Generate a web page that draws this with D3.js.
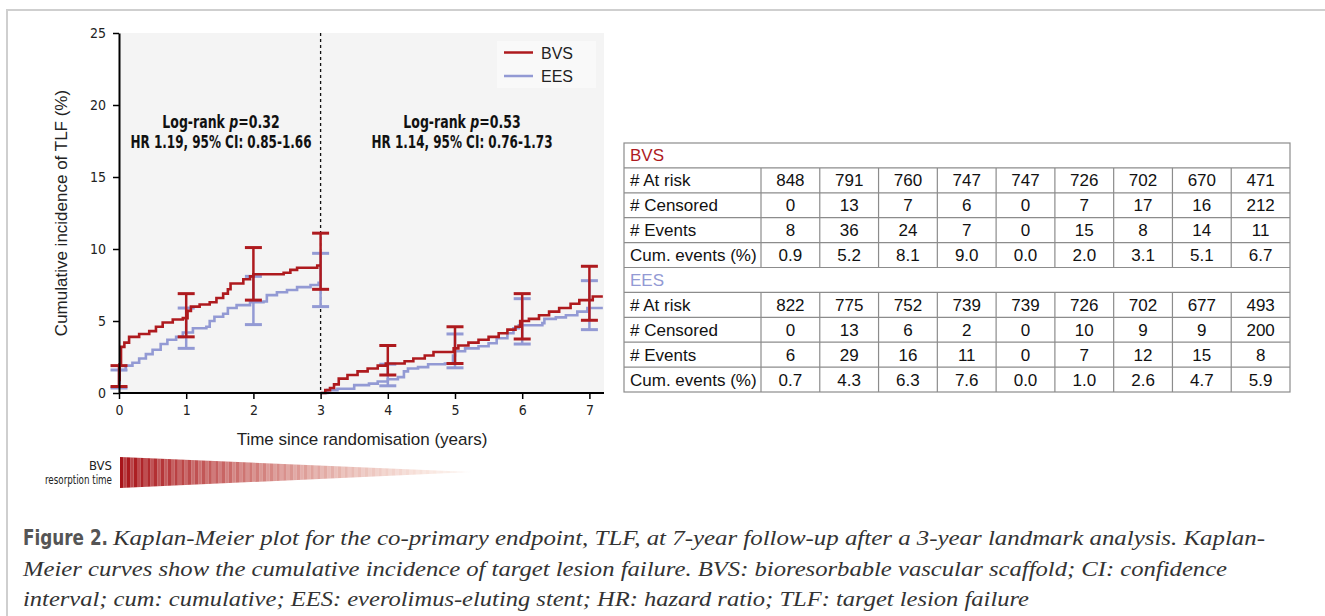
<!DOCTYPE html>
<html>
<head>
<meta charset="utf-8">
<script src="https://cdn.jsdelivr.net/npm/d3@7"></script>
<style>
  body { margin: 0; background: #fff; }
  .narrow { font-family: "Liberation Sans Narrow", "DejaVu Sans Condensed", "Roboto", sans-serif; font-stretch: condensed; }
  .sans { font-family: "Liberation Sans", Arial, sans-serif; }
  .serif { font-family: "Liberation Serif", "DejaVu Serif", serif; }
</style>
</head>
<body>
<svg id="fig" width="1325" height="616"></svg>
<script>
// Kaplan-Meier step data: [time (years), cumulative incidence (%)]
const bvsEarly = [[0,0.9],[0.01,2.0],[0.03,3.2],[0.08,3.5],[0.15,3.9],[0.3,4.1],[0.45,4.3],[0.55,4.6],[0.65,4.9],[0.8,5.1],[0.95,5.2],[1.02,5.7],[1.07,6.0],[1.2,6.15],[1.35,6.3],[1.45,6.6],[1.55,6.9],[1.62,7.2],[1.66,7.6],[1.85,7.9],[1.95,8.1],[2.0,8.25],[2.45,8.35],[2.55,8.55],[2.65,8.7],[2.95,8.85],[3.0,8.85]];
const eesEarly = [[0,0.7],[0.01,1.6],[0.1,1.9],[0.2,2.1],[0.3,2.4],[0.4,2.7],[0.5,3.0],[0.62,3.4],[0.72,3.7],[0.85,3.9],[0.95,4.2],[1.1,4.5],[1.3,4.6],[1.35,5.0],[1.42,5.3],[1.55,5.5],[1.62,5.9],[1.75,6.1],[1.95,6.3],[2.15,6.35],[2.2,6.8],[2.35,7.0],[2.5,7.15],[2.65,7.35],[2.85,7.5],[2.97,7.65],[3.0,7.65]];
const bvsLate = [[3,0],[3.07,0.2],[3.14,0.35],[3.2,0.6],[3.27,1.0],[3.4,1.25],[3.55,1.5],[3.7,1.7],[3.85,1.9],[3.97,2.05],[4.25,2.2],[4.38,2.4],[4.55,2.6],[4.68,2.85],[4.98,3.1],[5.05,3.3],[5.2,3.5],[5.35,3.7],[5.5,3.9],[5.65,4.15],[5.78,4.4],[5.9,4.6],[5.97,5.0],[6.1,5.15],[6.25,5.4],[6.4,5.65],[6.55,5.9],[6.72,6.2],[6.85,6.45],[7.05,6.7],[7.2,6.7]];
const eesLate = [[3,0],[3.1,0.2],[3.25,0.3],[3.5,0.55],[3.72,0.65],[3.85,0.8],[4.0,0.95],[4.15,1.1],[4.24,1.5],[4.3,1.7],[4.45,1.8],[4.6,2.0],[4.85,2.05],[4.97,2.6],[5.0,2.9],[5.15,3.1],[5.35,3.25],[5.5,3.45],[5.62,3.8],[5.78,4.15],[5.87,4.5],[5.95,4.7],[6.3,4.85],[6.33,5.15],[6.5,5.25],[6.65,5.4],[6.82,5.65],[6.97,5.9],[7.2,5.9]];

// 95% CI error bars at each year
const ciTimes = [0, 1, 2, 3, 4, 5, 6, 7];
const bvsCiLo = [0.45, 3.9, 6.45, 7.2, 1.25, 2.05, 3.75, 5.05];
const bvsCiHi = [1.9, 6.9, 10.1, 11.1, 3.3, 4.6, 6.9, 8.8];
const eesCiLo = [0.35, 3.1, 4.75, 6.0, 0.5, 1.75, 3.4, 4.4];
const eesCiHi = [1.6, 5.9, 8.1, 9.7, 2.0, 4.1, 6.55, 7.8];

const xTicks = [0, 1, 2, 3, 4, 5, 6, 7];
const yTicks = [0, 5, 10, 15, 20, 25];

// Risk table
const rowLabels = ["# At risk", "# Censored", "# Events", "Cum. events (%)"];
const bvsAtRisk = ["848", "791", "760", "747", "747", "726", "702", "670", "471"];
const bvsCensored = ["0", "13", "7", "6", "0", "7", "17", "16", "212"];
const bvsEvents = ["8", "36", "24", "7", "0", "15", "8", "14", "11"];
const bvsCum = ["0.9", "5.2", "8.1", "9.0", "0.0", "2.0", "3.1", "5.1", "6.7"];
const eesAtRisk = ["822", "775", "752", "739", "739", "726", "702", "677", "493"];
const eesCensored = ["0", "13", "6", "2", "0", "10", "9", "9", "200"];
const eesEvents = ["6", "29", "16", "11", "0", "7", "12", "15", "8"];
const eesCum = ["0.7", "4.3", "6.3", "7.6", "0.0", "1.0", "2.6", "4.7", "5.9"];

const bvsColor = "#ae1a1e",
    eesColor = "#939ad4";

const svg = d3.select("#fig");

// Frame around the figure
svg.append("path")
    .attr("d", "M7,616 V10 H1325")
    .attr("fill", "none")
    .attr("stroke", "#cfcfcf")
    .attr("stroke-width", 2);

drawPlot();
drawTable();
drawResorption();
drawCaption();

function drawPlot() {
    const left = 119, right = 604, top = 33, bottom = 393;

    let x = d3.scaleLinear().domain([0, 1]).range([left, left + 67.2]);
    let y = d3.scaleLinear().domain([0, 25]).range([bottom, top]);

    // plot background
    svg.append("rect")
        .attr("x", left).attr("y", top)
        .attr("width", right - left).attr("height", bottom - top)
        .attr("fill", "#f4f4f4");

    // landmark line at 3 years
    svg.append("line")
        .attr("x1", x(3)).attr("x2", x(3))
        .attr("y1", top).attr("y2", bottom)
        .attr("stroke", "#111")
        .attr("stroke-width", 1.3)
        .attr("stroke-dasharray", "3,3");

    let line = d3.line()
        .x(d => x(d[0]))
        .y(d => y(d[1]))
        .curve(d3.curveStepAfter);

    function drawBars(lo, hi, color) {
        let g = svg.append("g").attr("stroke", color).attr("stroke-width", 3);
        ciTimes.forEach((t, i) => {
            g.append("line").attr("x1", x(t)).attr("x2", x(t))
                .attr("y1", y(lo[i])).attr("y2", y(hi[i])).attr("stroke-width", 2.5);
            [lo[i], hi[i]].forEach(v => {
                g.append("line")
                    .attr("x1", x(t) - 8.5).attr("x2", x(t) + 8.5)
                    .attr("y1", y(v)).attr("y2", y(v));
            });
        });
    }

    // EES curves and bars
    [eesEarly, eesLate].forEach(seg => {
        svg.append("path").datum(seg)
            .attr("d", line).attr("fill", "none")
            .attr("stroke", eesColor).attr("stroke-width", 2.6);
    });
    drawBars(eesCiLo, eesCiHi, eesColor);

    // BVS curves and bars
    [bvsEarly, bvsLate].forEach(seg => {
        svg.append("path").datum(seg)
            .attr("d", line).attr("fill", "none")
            .attr("stroke", bvsColor).attr("stroke-width", 2.6);
    });
    drawBars(bvsCiLo, bvsCiHi, bvsColor);

    // Axes
    let xAxis = d3.axisBottom(x).tickValues(xTicks).tickSize(6).tickSizeOuter(0).tickFormat(d3.format("d"));
    let yAxis = d3.axisLeft(y).tickValues(yTicks).tickSize(6).tickSizeOuter(0);

    let xGroup = svg.append("g")
        .attr("transform", `translate(0,${bottom})`)
        .call(xAxis);
    xGroup.select(".domain").attr("d", `M${left},0H${right}`).attr("stroke-width", 2);
    xGroup.selectAll(".tick line").attr("stroke-width", 1.5);
    xGroup.selectAll("text")
        .attr("class", "narrow")
        .attr("font-size", 14).attr("fill", "#222").attr("dy", "0.95em");

    let yGroup = svg.append("g")
        .attr("transform", `translate(${left},0)`)
        .call(yAxis);
    yGroup.select(".domain").attr("stroke-width", 2);
    yGroup.selectAll(".tick line").attr("stroke-width", 1.5);
    yGroup.selectAll("text")
        .attr("class", "narrow")
        .attr("font-size", 14).attr("fill", "#222").attr("x", -13);

    // Axis labels
    svg.append("text")
        .attr("class", "sans")
        .attr("transform", `translate(67,213) rotate(-90)`)
        .attr("text-anchor", "middle")
        .attr("font-size", 17).attr("fill", "#222")
        .text("Cumulative incidence of TLF (%)");

    svg.append("text")
        .attr("class", "sans")
        .attr("x", 362).attr("y", 445)
        .attr("text-anchor", "middle")
        .attr("font-size", 17).attr("fill", "#222")
        .text("Time since randomisation (years)");

    // Statistics annotations, squeezed horizontally like a condensed face
    const notes = [
        {cx: 221, p: "0.32", hr: "HR 1.19, 95% CI: 0.85-1.66"},
        {cx: 462, p: "0.53", hr: "HR 1.14, 95% CI: 0.76-1.73"}
    ];
    notes.forEach(n => {
        let g1 = svg.append("g").attr("transform", `translate(${n.cx},128) scale(0.82,1)`);
        let t1 = g1.append("text")
            .attr("class", "narrow")
            .attr("text-anchor", "middle")
            .attr("font-size", 17).attr("font-weight", "bold").attr("fill", "#111");
        t1.append("tspan").text("Log-rank ");
        t1.append("tspan").attr("font-style", "italic").text("p");
        t1.append("tspan").text("=" + n.p);

        let g2 = svg.append("g").attr("transform", `translate(${n.cx},148) scale(0.785,1)`);
        g2.append("text")
            .attr("class", "narrow")
            .attr("text-anchor", "middle")
            .attr("font-size", 17).attr("font-weight", "bold").attr("fill", "#111")
            .text(n.hr);
    });

    // Legend
    let legend = svg.append("g");
    legend.append("rect")
        .attr("x", 497).attr("y", 41).attr("width", 99).attr("height", 47)
        .attr("fill", "#f9f9f9");
    [["BVS", bvsColor, 52.5], ["EES", eesColor, 76]].forEach(([name, color, ly]) => {
        legend.append("line")
            .attr("x1", 504).attr("x2", 533).attr("y1", ly).attr("y2", ly)
            .attr("stroke", color).attr("stroke-width", 2.5);
        legend.append("text")
            .attr("class", "sans")
            .attr("x", 541).attr("y", ly + 6)
            .attr("font-size", 16).attr("fill", "#222")
            .text(name);
    });
}

function drawTable() {
    const left = 624, labelRight = 761, right = 1290, top = 143, rowH = 24.9;

    let colScale = d3.scaleBand()
        .domain(d3.range(bvsAtRisk.length))
        .range([labelRight, right]);

    let groups = [
        {name: "BVS", color: bvsColor, rows: [bvsAtRisk, bvsCensored, bvsEvents, bvsCum]},
        {name: "EES", color: eesColor, rows: [eesAtRisk, eesCensored, eesEvents, eesCum]}
    ];

    let table = svg.append("g").attr("class", "sans").attr("font-size", 17);
    let nRows = groups.length * 5;

    // outer border and horizontal rules
    table.append("rect")
        .attr("x", left).attr("y", top)
        .attr("width", right - left).attr("height", nRows * rowH)
        .attr("fill", "none").attr("stroke", "#8c8c8c").attr("stroke-width", 1.2);
    d3.range(1, nRows).forEach(r => {
        table.append("line")
            .attr("x1", left).attr("x2", right)
            .attr("y1", top + r * rowH).attr("y2", top + r * rowH)
            .attr("stroke", "#8c8c8c").attr("stroke-width", 1.2);
    });

    groups.forEach((g, gi) => {
        let gTop = top + gi * 5 * rowH;
        table.append("text")
            .attr("x", left + 6).attr("y", gTop + rowH / 2 + 6)
            .attr("fill", g.color)
            .text(g.name);

        // vertical rules for the data rows of the group
        [labelRight].concat(colScale.domain().slice(1).map(c => colScale(c))).forEach(vx => {
            table.append("line")
                .attr("x1", vx).attr("x2", vx)
                .attr("y1", gTop + rowH).attr("y2", gTop + 5 * rowH)
                .attr("stroke", "#8c8c8c").attr("stroke-width", 1.2);
        });

        g.rows.forEach((vals, ri) => {
            let ry = gTop + (ri + 1) * rowH + rowH / 2 + 6;
            table.append("text")
                .attr("x", left + 6).attr("y", ry)
                .attr("fill", "#111")
                .text(rowLabels[ri]);
            vals.forEach((v, ci) => {
                table.append("text")
                    .attr("x", colScale(ci) + colScale.bandwidth() / 2).attr("y", ry)
                    .attr("text-anchor", "middle")
                    .attr("fill", "#111")
                    .text(v);
            });
        });
    });
}

function drawResorption() {
    const x0 = 120, x1 = 472, yTop = 457, yBot = 488, yTip = 472;

    let defs = svg.append("defs");
    defs.append("clipPath").attr("id", "tri")
        .append("path")
        .attr("d", `M${x0},${yTop} L${x1},${yTip} L${x0},${yBot} Z`);

    // stripes fading from dark red to transparent
    let shade = d3.scaleLinear().domain([x0, x1]).range([1, 0]);
    let colorOf = d3.interpolateRgb("#a8141a", "#f0c4b2");
    let g = svg.append("g").attr("clip-path", "url(#tri)");
    d3.range(x0, x1, 3.4).forEach((sx, i) => {
        let f = (sx - x0) / (x1 - x0);
        g.append("rect")
            .attr("x", sx).attr("y", yTop)
            .attr("width", 3.4).attr("height", yBot - yTop)
            .attr("fill", colorOf(Math.min(1, f * 1.1)))
            .attr("opacity", (i % 2 ? 0.82 : 1) * Math.max(0, shade(sx)) ** 0.45);
    });

    svg.append("text")
        .attr("class", "narrow")
        .attr("x", 112).attr("y", 470)
        .attr("text-anchor", "end")
        .attr("font-size", 13).attr("fill", "#222")
        .text("BVS");
    svg.append("text")
        .attr("class", "narrow")
        .attr("x", 112).attr("y", 484)
        .attr("text-anchor", "end")
        .attr("font-size", 13).attr("fill", "#222")
        .attr("textLength", 67).attr("lengthAdjust", "spacingAndGlyphs")
        .text("resorption time");
}

function drawCaption() {
    svg.append("text")
        .attr("class", "narrow")
        .attr("x", 23).attr("y", 545)
        .attr("font-size", 22).attr("font-weight", "bold").attr("fill", "#555")
        .attr("textLength", 85).attr("lengthAdjust", "spacingAndGlyphs")
        .text("Figure 2.");

    const lines = [
        {x: 113, y: 545, w: 1152, t: "Kaplan-Meier plot for the co-primary endpoint, TLF, at 7-year follow-up after a 3-year landmark analysis. Kaplan-"},
        {x: 23, y: 576, w: 1204, t: "Meier curves show the cumulative incidence of target lesion failure. BVS: bioresorbable vascular scaffold; CI: confidence"},
        {x: 23, y: 606, w: 1006, t: "interval; cum: cumulative; EES: everolimus-eluting stent; HR: hazard ratio; TLF: target lesion failure"}
    ];
    lines.forEach(l => {
        svg.append("text")
            .attr("class", "serif")
            .attr("x", l.x).attr("y", l.y)
            .attr("font-size", 22).attr("font-style", "italic").attr("fill", "#333")
            .attr("textLength", l.w).attr("lengthAdjust", "spacingAndGlyphs")
            .text(l.t);
    });
}
</script>
</body>
</html>
